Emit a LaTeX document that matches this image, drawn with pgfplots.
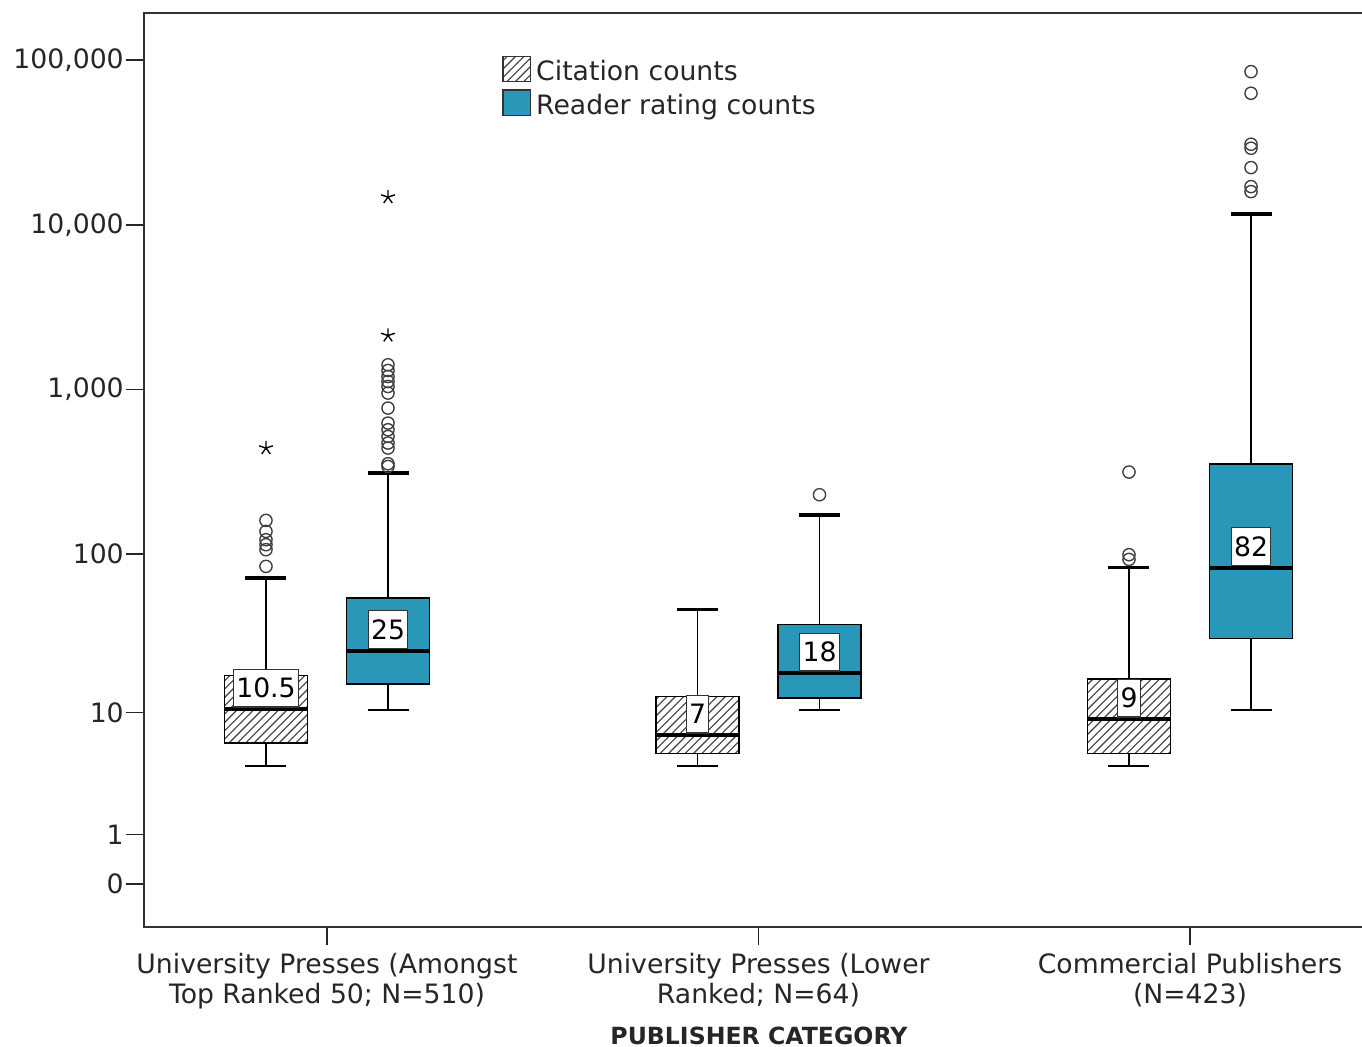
\documentclass[border=0pt]{standalone}
\usepackage{pgfplots}
\pgfplotsset{compat=1.18}
\usepgfplotslibrary{statistics}
\usetikzlibrary{patterns}
\usepackage{fontspec}
\setmainfont{DejaVu Sans}
\definecolor{spssteal}{RGB}{41,151,184}
\newcommand{\lblfont}{\fontsize{9.6}{10.6}\selectfont}
\tikzset{
  medlab/.style={draw=black!80, line width=0.4pt, fill=white, font=\lblfont, inner xsep=1pt, inner ysep=0pt, minimum height=13.6pt, anchor=south, yshift=0.6pt},
  wcap/.style={black, line width=1.3pt},
}
\pgfplotsset{
  cit/.style={draw=black, line width=0.5pt, pattern=north east lines, pattern color=black!75, boxplot/every median/.style={line width=1.3pt}, boxplot/every whisker/.style={line width=0.7pt}},
  rdr/.style={draw=black, line width=0.5pt, fill=spssteal, boxplot/every median/.style={line width=1.3pt}, boxplot/every whisker/.style={line width=0.7pt}},
}
\begin{document}
\begin{tikzpicture}
\path[use as bounding box] (-51.84pt,-43.2pt) rectangle (438.48pt,333.72pt);
\begin{axis}[
  at={(0pt,0pt)}, anchor=south west,
  scale only axis, width=440.64pt, height=329.04pt,
  xmin=-0.4241, xmax=2.4125, ymin=-0.2608, ymax=5.2851,
  xtick={0,1,2},
  xticklabels={{University Presses (Amongst\\Top Ranked 50; N=510)},{University Presses (Lower\\Ranked; N=64)},{Commercial Publishers\\(N=423)}},
  ytick={0,0.30103,1.04139,2.00432,3.00043,4.00004,5.00000},
  yticklabels={0,1,10,100,{1,000},{10,000},{100,000}},
  tick align=outside, major tick length=6.6pt,
  xtick pos=left, ytick pos=left,
  tick style={black!85, line width=0.6pt},
  axis line style={black!80, line width=0.6pt},
  ticklabel style={font=\lblfont, text=black!85},
  xticklabel style={align=center, yshift=0.6pt},
  yticklabel style={inner xsep=0.5pt},
  boxplot/draw direction=y,
]
% Citation counts
\addplot[cit, boxplot prepared={draw position=-0.1414, lower whisker=0.7144, lower quartile=0.8563, median=1.0607, upper quartile=1.2644, upper whisker=1.8569, box extend=0.1924, whisker extend=0.095}] coordinates {};
\addplot[cit, boxplot prepared={draw position=0.8586, lower whisker=0.7144, lower quartile=0.7914, median=0.9031, upper quartile=1.1389, upper whisker=1.6646, box extend=0.1924, whisker extend=0.095}] coordinates {};
\addplot[cit, boxplot prepared={draw position=1.8586, lower whisker=0.7144, lower quartile=0.7914, median=1.0000, upper quartile=1.2444, upper whisker=1.9212, box extend=0.1924, whisker extend=0.095}] coordinates {};
% Reader rating counts
\addplot[rdr, boxplot prepared={draw position=0.1414, lower whisker=1.0540, lower quartile=1.2141, median=1.4150, upper quartile=1.7356, upper whisker=2.4936, box extend=0.1924, whisker extend=0.095}] coordinates {};
\addplot[rdr, boxplot prepared={draw position=1.1414, lower whisker=1.0582, lower quartile=1.1292, median=1.2788, upper quartile=1.5737, upper whisker=2.2408, box extend=0.1924, whisker extend=0.095}] coordinates {};
\addplot[rdr, boxplot prepared={draw position=2.1414, lower whisker=1.0540, lower quartile=1.4888, median=1.9191, upper quartile=2.5482, upper whisker=4.0661, box extend=0.1924, whisker extend=0.095}] coordinates {};
% thicker upper whisker caps
\addplot[wcap] coordinates {(-0.1889,1.8569) (-0.0939,1.8569)};
\addplot[wcap] coordinates {(0.0939,2.4936) (0.1889,2.4936)};
\addplot[wcap] coordinates {(0.8111,1.6646) (0.9061,1.6646)};
\addplot[wcap] coordinates {(1.0939,2.2408) (1.1889,2.2408)};
\addplot[wcap] coordinates {(1.8111,1.9212) (1.9061,1.9212)};
\addplot[wcap] coordinates {(2.0939,4.0661) (2.1889,4.0661)};
% outliers (circles)
\addplot[only marks, mark=o, mark size=2.2pt, mark options={draw=black!75, line width=0.5pt}] coordinates {
 (-0.1414,1.9272) (-0.1414,2.0285) (-0.1414,2.0588) (-0.1414,2.0891) (-0.1414,2.1395) (-0.1414,2.2062)
 (0.1414,2.5337) (0.1414,2.5500) (0.1414,2.6452) (0.1414,2.6756) (0.1414,2.7156) (0.1414,2.7562) (0.1414,2.7968)
 (0.1414,2.8878) (0.1414,2.9788) (0.1414,3.0188) (0.1414,3.0491) (0.1414,3.0794) (0.1414,3.1158) (0.1414,3.1504)
 (1.1414,2.3620)
 (1.8586,1.9697) (1.8586,1.9982) (1.8586,2.4997)
 (2.1414,4.2013) (2.1414,4.2316) (2.1414,4.3469) (2.1414,4.4645) (2.1414,4.4888) (2.1414,4.7981) (2.1414,4.9291)
};
% extreme values (stars)
\addplot[only marks, mark=star, mark size=2.6pt, mark options={draw=black, line width=0.5pt}] coordinates {
 (-0.1414,2.6452) (0.1414,3.3281) (0.1414,4.1680)
};
% median labels
\node[medlab] at (axis cs:-0.1414,1.0607) {10.5};
\node[medlab] at (axis cs:0.1414,1.4150) {25};
\node[medlab] at (axis cs:0.8586,0.9031) {7};
\node[medlab] at (axis cs:1.1414,1.2788) {18};
\node[medlab] at (axis cs:1.8586,1.0000) {9};
\node[medlab] at (axis cs:2.1414,1.9191) {82};
\end{axis}
% legend
\draw[black!80, line width=0.5pt, pattern=north east lines, pattern color=black!75] (129.3pt,304.3pt) rectangle (139.2pt,313.3pt);
\node[anchor=base west, inner sep=0pt, font=\lblfont, text=black!85] at (141.0pt,304.56pt) {Citation counts};
\draw[black!80, line width=0.5pt, fill=spssteal] (129.3pt,292.1pt) rectangle (139.2pt,301.3pt);
\node[anchor=base west, inner sep=0pt, font=\lblfont, text=black!85] at (141.0pt,292.57pt) {Reader rating counts};
% axis title
\node[anchor=base, inner sep=0pt, font=\bfseries\fontsize{8.5}{10}\selectfont, text=black!85] at (221.4pt,-42.3pt) {PUBLISHER CATEGORY};
\end{tikzpicture}
\end{document}
